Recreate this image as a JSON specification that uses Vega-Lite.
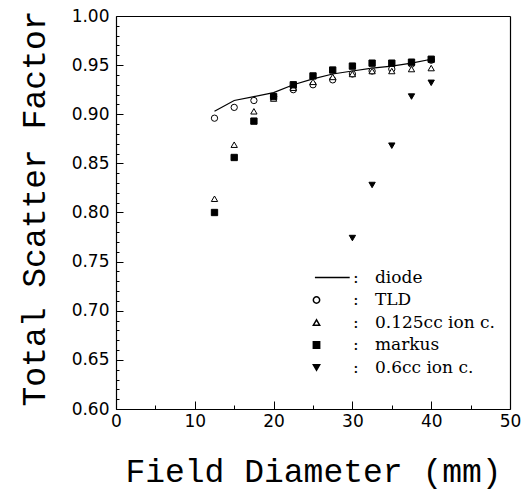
{
  "$schema": "https://vega.github.io/schema/vega-lite/v6.json",
  "autosize": "none",
  "width": 394,
  "height": 393,
  "padding": {"left": 116, "top": 16, "right": 19, "bottom": 84},
  "background": "white",
  "config": {
    "axis": {
      "labelFont": "DejaVu Sans", "labelFontSize": 17, "labelColor": "black",
      "titleFont": "Liberation Mono", "titleFontSize": 33, "titleFontWeight": "normal", "titleColor": "black"
    }
  },
  "datasets": {
    "diode": [
      {"d": 12.5, "tsf": 0.903}, {"d": 15, "tsf": 0.914}, {"d": 17.5, "tsf": 0.918},
      {"d": 20, "tsf": 0.922}, {"d": 22.5, "tsf": 0.930}, {"d": 25, "tsf": 0.936},
      {"d": 27.5, "tsf": 0.941}, {"d": 30, "tsf": 0.944}, {"d": 32.5, "tsf": 0.947},
      {"d": 35, "tsf": 0.949}, {"d": 37.5, "tsf": 0.952}, {"d": 40, "tsf": 0.956}
    ],
    "pts": [
      {"series": "TLD", "d": 12.5, "tsf": 0.896}, {"series": "TLD", "d": 15, "tsf": 0.907},
      {"series": "TLD", "d": 17.5, "tsf": 0.914}, {"series": "TLD", "d": 20, "tsf": 0.918},
      {"series": "TLD", "d": 22.5, "tsf": 0.925}, {"series": "TLD", "d": 25, "tsf": 0.930},
      {"series": "TLD", "d": 27.5, "tsf": 0.935}, {"series": "TLD", "d": 30, "tsf": 0.941},
      {"series": "TLD", "d": 32.5, "tsf": 0.944}, {"series": "TLD", "d": 35, "tsf": 0.946},
      {"series": "TLD", "d": 37.5, "tsf": 0.951}, {"series": "TLD", "d": 40, "tsf": 0.955},
      {"series": "0.125cc ion c.", "d": 12.5, "tsf": 0.814}, {"series": "0.125cc ion c.", "d": 15, "tsf": 0.869},
      {"series": "0.125cc ion c.", "d": 17.5, "tsf": 0.903}, {"series": "0.125cc ion c.", "d": 20, "tsf": 0.916},
      {"series": "0.125cc ion c.", "d": 22.5, "tsf": 0.927}, {"series": "0.125cc ion c.", "d": 25, "tsf": 0.933},
      {"series": "0.125cc ion c.", "d": 27.5, "tsf": 0.938}, {"series": "0.125cc ion c.", "d": 30, "tsf": 0.941},
      {"series": "0.125cc ion c.", "d": 32.5, "tsf": 0.944}, {"series": "0.125cc ion c.", "d": 35, "tsf": 0.944},
      {"series": "0.125cc ion c.", "d": 37.5, "tsf": 0.946}, {"series": "0.125cc ion c.", "d": 40, "tsf": 0.947},
      {"series": "markus", "d": 12.5, "tsf": 0.800}, {"series": "markus", "d": 15, "tsf": 0.856},
      {"series": "markus", "d": 17.5, "tsf": 0.893}, {"series": "markus", "d": 20, "tsf": 0.918},
      {"series": "markus", "d": 22.5, "tsf": 0.930}, {"series": "markus", "d": 25, "tsf": 0.939},
      {"series": "markus", "d": 27.5, "tsf": 0.945}, {"series": "markus", "d": 30, "tsf": 0.949},
      {"series": "markus", "d": 32.5, "tsf": 0.952}, {"series": "markus", "d": 35, "tsf": 0.952},
      {"series": "markus", "d": 37.5, "tsf": 0.953}, {"series": "markus", "d": 40, "tsf": 0.956},
      {"series": "0.6cc ion c.", "d": 30, "tsf": 0.774}, {"series": "0.6cc ion c.", "d": 32.5, "tsf": 0.828},
      {"series": "0.6cc ion c.", "d": 35, "tsf": 0.868}, {"series": "0.6cc ion c.", "d": 37.5, "tsf": 0.918},
      {"series": "0.6cc ion c.", "d": 40, "tsf": 0.932}
    ]
  },
  "resolve": {"axis": {"x": "independent", "y": "independent"}},
  "layer": [
    {
      "data": {"name": "diode"},
      "mark": {"type": "line", "stroke": "black", "strokeWidth": 1.2},
      "encoding": {
        "x": {
          "field": "d", "type": "quantitative",
          "scale": {"domain": [0, 50], "nice": false, "zero": false},
          "axis": {
            "orient": "bottom", "title": "Field Diameter (mm)",
            "domain": true, "domainColor": "black", "domainWidth": 1.2,
            "ticks": true, "tickColor": "black", "tickWidth": 1,
            "grid": true, "gridColor": "black", "gridWidth": 1.2,
            "gridOpacity": {"condition": {"test": "datum.value === 50", "value": 1}, "value": 0},
            "labelFlush": false,
            "values": [0, 5, 10, 15, 20, 25, 30, 35, 40, 45, 50],
            "tickSize": {"condition": {"test": "datum.value % 10 === 0", "value": -8}, "value": -4},
            "labelExpr": "datum.value % 10 === 0 ? datum.label : ''",
            "labelPadding": 12, "titlePadding": 26
          }
        },
        "y": {
          "field": "tsf", "type": "quantitative",
          "scale": {"domain": [0.6, 1.0], "nice": false, "zero": false},
          "axis": {
            "orient": "left", "title": "Total Scatter Factor",
            "domain": true, "domainColor": "black", "domainWidth": 1.2,
            "ticks": true, "tickColor": "black", "tickWidth": 1,
            "grid": true, "gridColor": "black", "gridWidth": 1.2,
            "gridOpacity": {"condition": {"test": "datum.value > 0.995", "value": 1}, "value": 0},
            "labelFlush": false,
            "values": [0.6,0.61,0.62,0.63,0.64,0.65,0.66,0.67,0.68,0.69,0.7,0.71,0.72,0.73,0.74,0.75,0.76,0.77,0.78,0.79,0.8,0.81,0.82,0.83,0.84,0.85,0.86,0.87,0.88,0.89,0.9,0.91,0.92,0.93,0.94,0.95,0.96,0.97,0.98,0.99,1.0],
            "format": ".2f",
            "tickSize": {"condition": {"test": "round(datum.value * 100) % 5 === 0", "value": -7}, "value": -3},
            "labelExpr": "round(datum.value * 100) % 5 === 0 ? datum.label : ''",
            "labelPadding": 14,
            "titleX": -72, "titleY": 192, "titleBaseline": "alphabetic", "titleAngle": -90, "titleAlign": "center"
          }
        }
      }
    },
    {
      "data": {"name": "pts"},
      "mark": {"type": "point", "filled": true, "stroke": "black", "strokeWidth": 1, "size": 40, "opacity": 1},
      "encoding": {
        "x": {"field": "d", "type": "quantitative", "axis": null},
        "y": {"field": "tsf", "type": "quantitative", "axis": null},
        "shape": {
          "field": "series", "type": "nominal",
          "scale": {
            "domain": ["diode", "TLD", "0.125cc ion c.", "markus", "0.6cc ion c."],
            "range": ["M-0.5,0H10.5", "circle", "triangle-up", "square", "triangle-down"]
          },
          "legend": {
            "title": null, "orient": "none", "legendX": 192, "legendY": 253,
            "padding": 0, "rowPadding": 4.5, "symbolSize": 40,
            "labelFont": "DejaVu Serif", "labelFontSize": 17, "labelColor": "black", "labelOffset": 28,
            "labelExpr": "':\u00a0\u00a0\u00a0' + datum.label",
            "encode": {"symbols": {"update": {"stroke": {"value": "black"}, "strokeWidth": {"value": 1.2}}}}
          }
        },
        "fill": {
          "field": "series", "type": "nominal",
          "scale": {
            "domain": ["diode", "TLD", "0.125cc ion c.", "markus", "0.6cc ion c."],
            "range": ["transparent", "white", "white", "black", "black"]
          },
          "legend": {
            "title": null, "orient": "none", "legendX": 192, "legendY": 253,
            "padding": 0, "rowPadding": 4.5, "symbolSize": 40,
            "labelFont": "DejaVu Serif", "labelFontSize": 17, "labelColor": "black", "labelOffset": 28,
            "labelExpr": "':\u00a0\u00a0\u00a0' + datum.label",
            "encode": {"symbols": {"update": {"stroke": {"value": "black"}, "strokeWidth": {"value": 1.2}}}}
          }
        }
      }
    }
  ]
}
